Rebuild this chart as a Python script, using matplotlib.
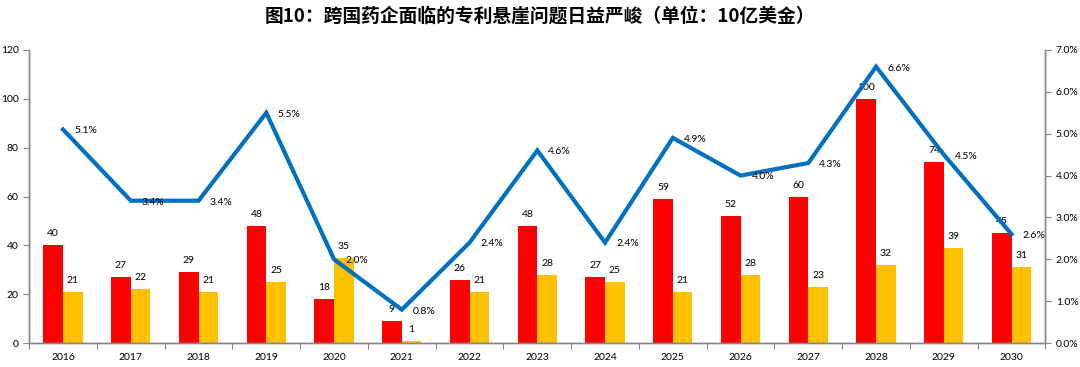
import matplotlib
matplotlib.use("Agg")
import matplotlib.pyplot as plt
import numpy as np
from matplotlib.ticker import MultipleLocator, FuncFormatter

plt.rcParams['font.family'] = ['Lato', 'Noto Sans CJK SC', 'DejaVu Sans']

years = ['2016', '2017', '2018', '2019', '2020', '2021', '2022', '2023',
         '2024', '2025', '2026', '2027', '2028', '2029', '2030']
red_vals = [40, 27, 29, 48, 18, 9, 26, 48, 27, 59, 52, 60, 100, 74, 45]
yellow_vals = [21, 22, 21, 25, 35, 1, 21, 28, 25, 21, 28, 23, 32, 39, 31]
pct_vals = [5.1, 3.4, 3.4, 5.5, 2.0, 0.8, 2.4, 4.6, 2.4, 4.9, 4.0, 4.3, 6.6, 4.5, 2.6]

title = '图10：跨国药企面临的专利悬崖问题日益严峻（单位：10亿美金）'

RED = '#FF0000'
YELLOW = '#FFC000'
BLUE = '#0070C0'
AXIS = '#868686'

fig = plt.figure(figsize=(10.8, 3.67), dpi=100)
ax = fig.add_axes([0.027, 0.065, 0.941, 0.799])
ax2 = ax.twinx()

x = np.arange(len(years))
w = 0.29
ax.bar(x - w / 2, red_vals, w, color=RED, zorder=2)
ax.bar(x + w / 2, yellow_vals, w, color=YELLOW, zorder=2)

for xi, v in zip(x, red_vals):
    ax.annotate(str(v), (xi - w / 2, v), xytext=(0, 5), textcoords='offset points',
                ha='center', va='bottom', fontsize=7.5)
for xi, v in zip(x, yellow_vals):
    ax.annotate(str(v), (xi + w / 2, v), xytext=(0, 5), textcoords='offset points',
                ha='center', va='bottom', fontsize=7.5)

ax2.plot(x, pct_vals, color=BLUE, lw=3, solid_joinstyle='miter', zorder=3)
for xi, v in zip(x, pct_vals):
    ax2.annotate(f'{v:.1f}%', (xi, v), xytext=(8, -1), textcoords='offset points',
                 ha='left', va='center', fontsize=7.5)

ax.set_xlim(-0.5, len(years) - 0.5)
ax.set_ylim(0, 120)
ax.yaxis.set_major_locator(MultipleLocator(20))
ax2.set_ylim(0, 7)
ax2.yaxis.set_major_locator(MultipleLocator(1))
ax2.yaxis.set_major_formatter(FuncFormatter(lambda v, p: f'{v:.1f}%'))

# category ticks on the boundaries, labels in the middle
ax.set_xticks(np.arange(-0.5, len(years), 1))
ax.set_xticklabels([])
ax.set_xticks(x, minor=True)
ax.set_xticklabels(years, minor=True, fontsize=7.5)
ax.tick_params(axis='x', which='minor', length=0, pad=7)
ax.tick_params(axis='x', which='major', length=4, color=AXIS)
ax.tick_params(axis='y', labelsize=7.5, length=4, color=AXIS)
ax2.tick_params(axis='y', labelsize=7.5, length=4, color=AXIS)

for a in (ax, ax2):
    a.spines['top'].set_visible(False)
    for s in ('left', 'right', 'bottom'):
        a.spines[s].set_color(AXIS)
        a.spines[s].set_linewidth(1)

fig.text(0.5, 0.955, title, ha='center', va='center', fontsize=13.5,
         fontweight='bold', family=['Noto Sans CJK SC', 'DejaVu Sans'])

fig.savefig('out.png', dpi=100)
